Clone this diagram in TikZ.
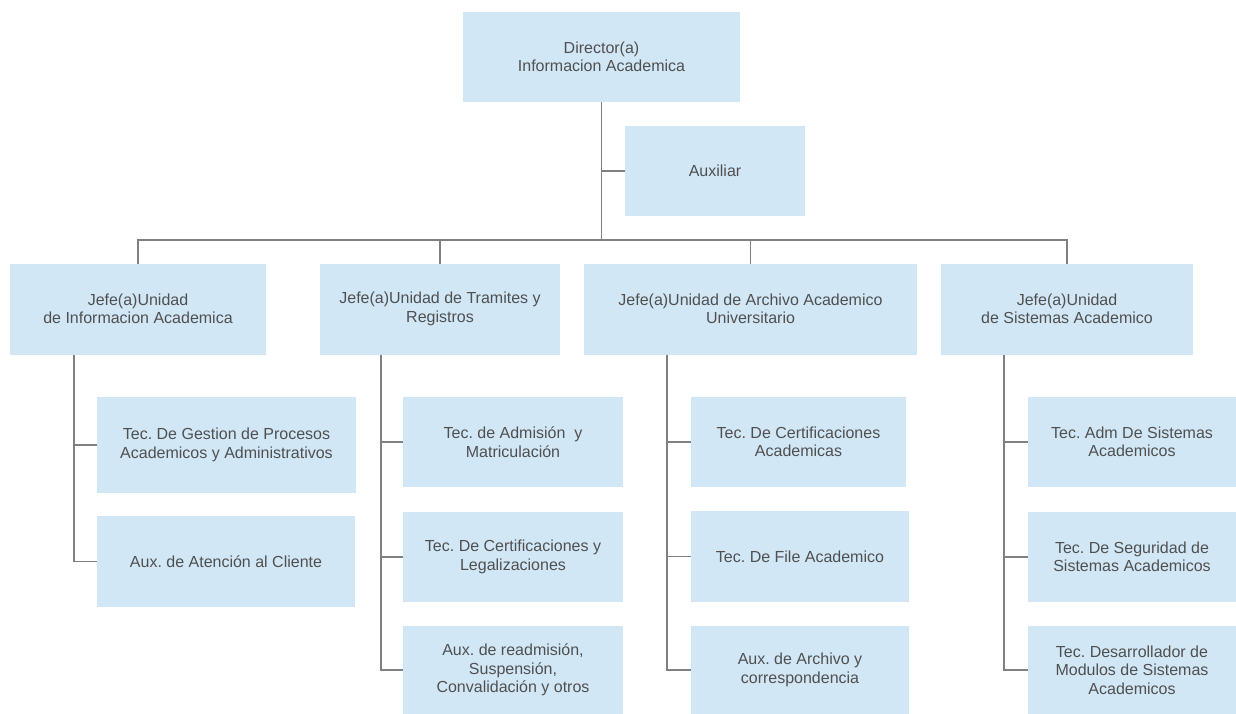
\documentclass[tikz,border=0pt]{standalone}
\usepackage{fontspec}
\setmainfont{Liberation Sans}
\frenchspacing
\definecolor{boxfill}{RGB}{209,231,245}
\definecolor{boxtext}{RGB}{80,80,80}
\definecolor{linegray}{RGB}{128,128,128}
\begin{document}
\begin{tikzpicture}[x=1pt,y=-1pt,
  unit/.style={fill=boxfill,draw=none,inner sep=0pt,outer sep=0pt,align=center,
    text=boxtext,font=\fontsize{16}{18.5}\selectfont\frenchspacing},
  link/.style={draw=linegray,line width=1.4pt}]
\useasboundingbox (0,0) rectangle (1236,714);

% top level
\node[unit,minimum width=277,minimum height=90] (dir) at (601.5,57) {Director(a)\\Informacion Academica};
\node[unit,minimum width=180,minimum height=90] (aux) at (715,171) {Auxiliar};

% unit heads
\node[unit,minimum width=256,minimum height=91] (j1) at (138,309) {Jefe(a)Unidad\\de Informacion Academica};
\node[unit,minimum width=240,minimum height=91] (j2) at (440,309) {Jefe(a)Unidad de Tramites y\\Registros};
\node[unit,minimum width=333,minimum height=91] (j3) at (750.5,309) {Jefe(a)Unidad de Archivo Academico\\Universitario};
\node[unit,minimum width=252,minimum height=91] (j4) at (1067,309) {Jefe(a)Unidad\\de Sistemas Academico};

% staff under each unit
\node[unit,minimum width=259,minimum height=96] (c11) at (226.5,445) {Tec. De Gestion de Procesos\\Academicos y Administrativos};
\node[unit,minimum width=258,minimum height=91] (c12) at (226,561.5) {Aux. de Atención al Cliente};

\node[unit,minimum width=220,minimum height=90] (c21) at (513,442) {Tec. de Admisión~ y\\Matriculación};
\node[unit,minimum width=220,minimum height=90] (c22) at (513,557) {Tec. De Certificaciones y\\Legalizaciones};
\node[unit,minimum width=220,minimum height=88] (c23) at (513,670) {Aux. de readmisión,\\Suspensión,\\Convalidación y otros};

\node[unit,minimum width=215,minimum height=90] (c31) at (798.5,442) {Tec. De Certificaciones\\Academicas};
\node[unit,minimum width=218,minimum height=91] (c32) at (800,556.5) {Tec. De File Academico};
\node[unit,minimum width=218,minimum height=88] (c33) at (800,670) {Aux. de Archivo y\\correspondencia};

\node[unit,minimum width=208,minimum height=90] (c41) at (1132,442) {Tec. Adm De Sistemas\\Academicos};
\node[unit,minimum width=208,minimum height=90] (c42) at (1132,557) {Tec. De Seguridad de\\Sistemas Academicos};
\node[unit,minimum width=208,minimum height=88] (c43) at (1132,670) {Tec. Desarrollador de\\Modulos de Sistemas\\Academicos};

% connectors
\coordinate (bus) at (601,240);
\path[link] (dir.south) -- (dir.south |- bus);
\path[link] (dir.south |- aux.west) -- (aux.west);
\path[link] (j1.north) -- (j1.north |- bus) -- (j4.north |- bus) -- (j4.north);
\path[link] (j2.north) -- (j2.north |- bus);
\path[link] (j3.north) -- (j3.north |- bus);

\path[link] ([xshift=64]j1.south west) |- (c11.west);
\path[link] ([xshift=64]j1.south west) |- (c12.west);

\path[link] ([xshift=61]j2.south west) |- (c21.west);
\path[link] ([xshift=61]j2.south west) |- (c22.west);
\path[link] ([xshift=61]j2.south west) |- (c23.west);

\path[link] ([xshift=83]j3.south west) |- (c31.west);
\path[link] ([xshift=83]j3.south west) |- (c32.west);
\path[link] ([xshift=83]j3.south west) |- (c33.west);

\path[link] ([xshift=63]j4.south west) |- (c41.west);
\path[link] ([xshift=63]j4.south west) |- (c42.west);
\path[link] ([xshift=63]j4.south west) |- (c43.west);
\end{tikzpicture}
\end{document}
